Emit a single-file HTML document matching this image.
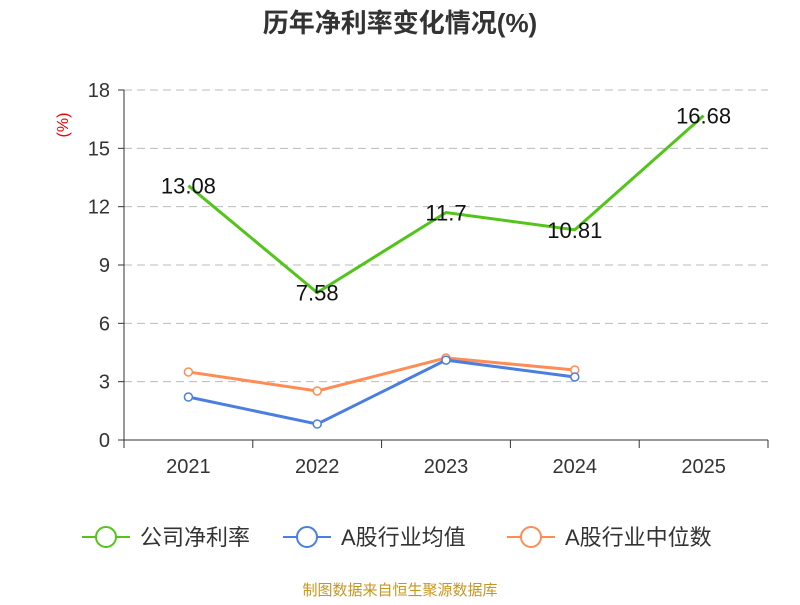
<!DOCTYPE html>
<html><head><meta charset="utf-8"><style>
body{margin:0;background:#fff;font-family:"Liberation Sans","Noto Sans CJK SC",sans-serif;}
</style></head><body>
<svg id="c" width="800" height="600" xmlns="http://www.w3.org/2000/svg">
<text x="400" y="32" text-anchor="middle" font-size="26" font-weight="bold" fill="#333" font-family="Liberation Sans, Noto Sans CJK SC, sans-serif">历年净利率变化情况(%)</text>
<text transform="translate(68,125) rotate(-90)" text-anchor="middle" font-size="16" fill="#e00">(%)</text>
<g id="grid"></g><g id="axes"></g><g id="series"></g>
<g>
<g><line x1="82" y1="537" x2="130" y2="537" stroke="#52c41a" stroke-width="2"/><circle cx="106" cy="537" r="10" fill="#fff" stroke="#52c41a" stroke-width="2"/><text x="140" y="545" font-size="22" fill="#333">公司净利率</text></g>
<g><line x1="283" y1="537" x2="331" y2="537" stroke="#4a7ee0" stroke-width="2"/><circle cx="307" cy="537" r="10" fill="#fff" stroke="#4a7ee0" stroke-width="2"/><text x="341" y="545" font-size="22" fill="#333">A股行业均值</text></g>
<g><line x1="507" y1="537" x2="555" y2="537" stroke="#ff8c55" stroke-width="2"/><circle cx="531" cy="537" r="10" fill="#fff" stroke="#ff8c55" stroke-width="2"/><text x="565" y="545" font-size="22" fill="#333">A股行业中位数</text></g>
</g>
<text x="400" y="595" text-anchor="middle" font-size="15" fill="#c8961e">制图数据来自恒生聚源数据库</text>
</svg>
<script>
const categories=["2021","2022","2023","2024","2025"];
const companyValues=[13.08,7.58,11.7,10.81,16.68];
const companyLabels=["13.08","7.58","11.7","10.81","16.68"];
const avgValues=[2.21,0.82,4.11,3.24];
const medianValues=[3.5,2.52,4.22,3.6];
const yTicks=[0,3,6,9,12,15,18];
const NS="http://www.w3.org/2000/svg";
const X0=124,X1=768,Y0=440,Y1=90,YMAX=18;
const band=(X1-X0)/categories.length;
const xs=i=>X0+band*(i+0.5);
const ys=v=>Y0-(v/YMAX)*(Y0-Y1);
function mk(tag,attrs,parent){const e=document.createElementNS(NS,tag);for(const k in attrs)e.setAttribute(k,attrs[k]);parent.appendChild(e);return e;}
const grid=document.getElementById('grid'),axes=document.getElementById('axes'),ser=document.getElementById('series');
yTicks.forEach(t=>{
 const y=ys(t);
 if(t>0){const g=mk('line',{x1:X0,x2:X1,y1:y,y2:y,stroke:'#bbb','stroke-dasharray':'8,5'},grid);
 
 }
 const tk=mk('line',{x1:X0-6,x2:X0,y1:y,y2:y,stroke:'#333'},axes);
 
 
 const l=mk('text',{x:X0-14,y:y+7,'text-anchor':'end','font-size':20,fill:'#333'},axes);l.textContent=t;
 
 
});
const ya=mk('line',{x1:X0,x2:X0,y1:Y1,y2:Y0,stroke:'#333'},axes);


const xa=mk('line',{x1:X0,x2:X1,y1:Y0,y2:Y0,stroke:'#333'},axes);


for(let i=0;i<=categories.length;i++){const x=X0+band*i;const t=mk('line',{x1:x,x2:x,y1:Y0,y2:Y0+8,stroke:'#333'},axes);
 
 }
categories.forEach((c,i)=>{const t=mk('text',{x:xs(i),y:Y0+33,'text-anchor':'middle','font-size':20,fill:'#333'},axes);t.textContent=c;
 
 });
function line(vals,color,name,markers){
 const p=mk('polyline',{points:vals.map((v,i)=>xs(i)+','+ys(v)).join(' '),fill:'none',stroke:color,'stroke-width':3},ser);
 
 
 if(markers)vals.forEach((v,i)=>{const c=mk('circle',{cx:xs(i),cy:ys(v),r:4,fill:'#fff',stroke:color,'stroke-width':1.5},ser);
 
 });
}
line(medianValues,'#ff8c55','industry-median',true);
line(avgValues,'#4a7ee0','industry-avg',true);
line(companyValues,'#52c41a','company',false);
companyValues.forEach((v,i)=>{const t=mk('text',{x:xs(i),y:ys(v)+8,'text-anchor':'middle','font-size':22,fill:'#111'},ser);t.textContent=companyLabels[i];
 
 });
</script>
</body></html>
